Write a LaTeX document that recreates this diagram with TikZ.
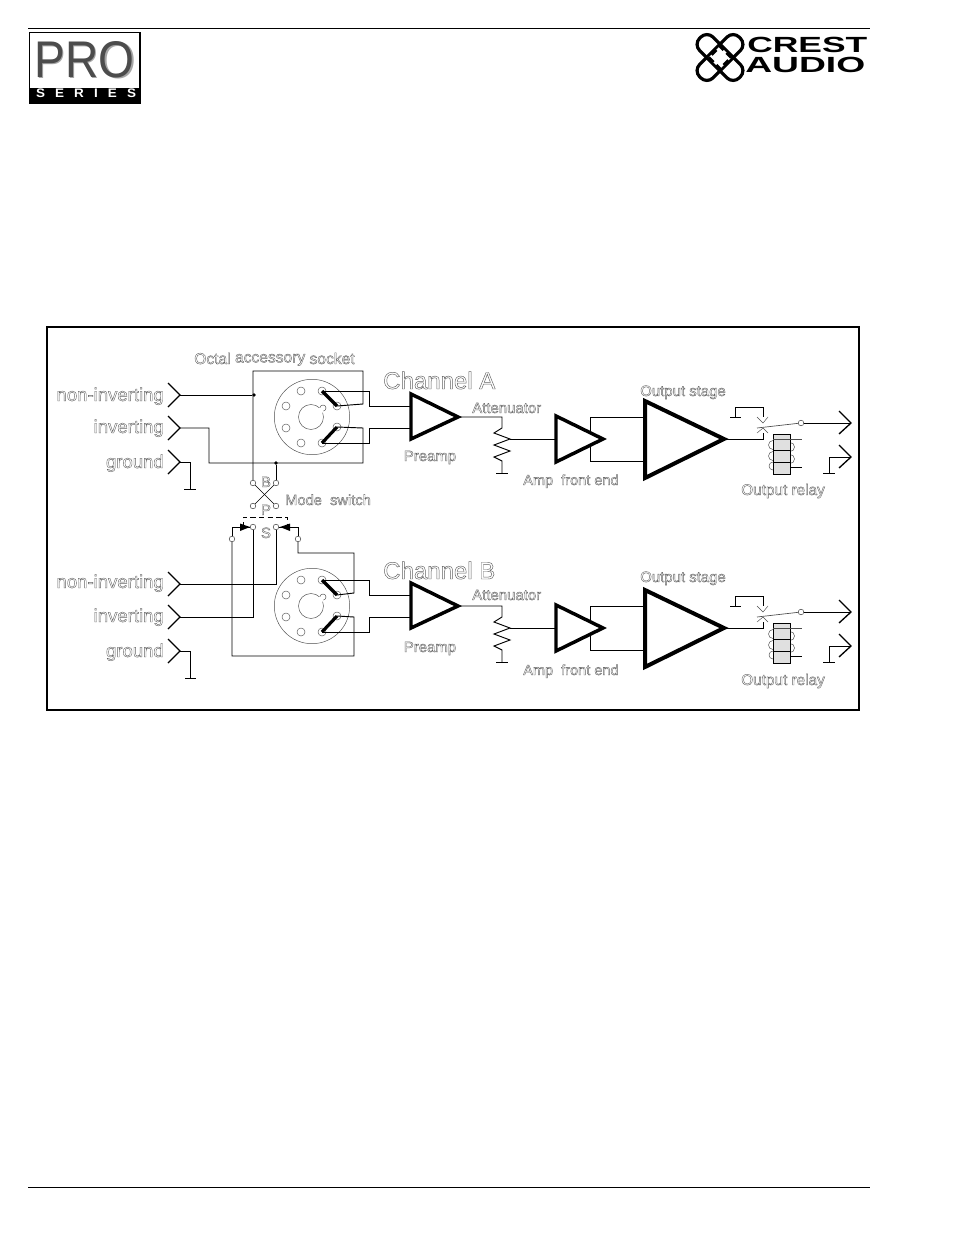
\documentclass[tikz,border=0pt]{standalone}
\usepackage{fontspec}
\usepackage{graphicx}
\setmainfont{Liberation Sans}
\newcommand{\hollow}[2][0.3]{\special{pdf:code q 1 Tr #1 w 0.38 G}#2\special{pdf:code Q}}
\tikzset{
  wire/.style={line width=0.7pt,line join=miter},
  thinw/.style={line width=0.35pt,draw=black!70},
  amp/.style={line width=2.6pt,line join=miter},
  chev/.style={line width=1pt,line join=miter},
  hole/.style={circle,draw=black!65,line width=0.35pt,fill=white,minimum size=6pt,inner sep=0pt},
  contact/.style={circle,draw=black!70,line width=0.4pt,fill=white,minimum size=4.2pt,inner sep=0pt},
  dotn/.style={circle,fill=black,minimum size=2.8pt,inner sep=0pt},
  lab/.style={inner sep=0pt,font=\fontsize{11.2}{13}\selectfont},
  big/.style={inner sep=0pt,font=\fontsize{13.9}{16}\selectfont},
  huge/.style={inner sep=0pt,font=\fontsize{18}{20}\selectfont}
}
% channel drawn at vertical offset #2, names prefixed by #1
\newcommand{\channel}[2]{%
\begin{scope}[shift={(0,#2)}]
  % input chevrons
  \coordinate (#1in1) at (180,395);
  \coordinate (#1in2) at (180,428);
  \coordinate (#1in3) at (180,462);
  % socket
  \coordinate (#1sock) at (312,417);
  \draw[thinw] (#1sock) circle (37.7);
  \draw[thinw] (311,417) circle (12.5);
  \draw[thinw,fill=white] (323,408) circle (3);
  \fill[white] (320.5,410.5) circle (3);
  \node[hole] (#1h1) at (301,391) {};
  \node[hole] (#1h2) at (286,406) {};
  \node[hole] (#1h3) at (286,428) {};
  \node[hole] (#1h4) at (301,443) {};
  \node[hole] (#1p1) at (322,391) {};
  \node[hole] (#1p2) at (337,406) {};
  \node[hole] (#1p3) at (337,427) {};
  \node[hole] (#1p4) at (322,443) {};
  \draw[line width=2.4pt] (#1p1.center) -- (#1p2.center);
  \draw[line width=2.4pt] (#1p3.center) -- (#1p4.center);
  % preamp
  \coordinate (#1ai1) at (411,406);
  \coordinate (#1ai2) at (411,428);
  \coordinate (#1ao) at (458,417);
  \draw[amp] (411,394) -- (#1ao) -- (411,439) -- cycle;
  \draw[wire] (#1p1.center) -- (369,391) |- (#1ai1);
  \draw[wire] (#1p4.center) -- (369,443) |- (#1ai2);
  % attenuator
  \coordinate (#1wip) at (510,439);
  \coordinate (#1rg) at (502,473);
  \draw[wire] (#1ao) -- (502,417) -- (502,428) -- (494,433) -- (#1wip) -- (494,445) -- (510,451) -- (494,457) -- (502,461) -- (#1rg);
  \draw[wire] (496,473) -- (508,473);
  % front end
  \coordinate (#1fi) at (556,439);
  \coordinate (#1fo) at (603,439);
  \draw[wire] (#1wip) -- (#1fi);
  \draw[wire] (590,417) -- (645,417) (590,461) -- (645,461) (590,417) -- (590,461);
  \draw[amp,fill=white] (556,416) -- (#1fo) -- (556,462) -- cycle;
  % output stage
  \coordinate (#1oo) at (724,439);
  \draw[amp,line width=3pt] (645,401) -- (#1oo) -- (645,478) -- cycle;
  % relay
  \draw[wire] (#1oo) -- (763,439) -- (763,433);
  \draw[wire] (730,417) -- (741,417) (735,417) -- (735,407) -- (763,407) -- (763,417);
  \draw[thinw] (757,417) -- (763,423) -- (768,417);
  \draw[thinw] (757,433) -- (763,428) -- (768,433);
  \node[contact] (#1sw) at (801,423) {};
  \draw[thinw,line width=0.5pt] (757,428) -- (#1sw);
  \coordinate (#1out1) at (851,423);
  \coordinate (#1out2) at (851,457);
  \draw[wire] (#1sw) -- (#1out1);
  \draw[chev] (839,411) -- (#1out1) -- (839,434);
  \draw[chev] (839,445) -- (#1out2) -- (839,468);
  \draw[wire] (#1out2) -- (829,457) -- (829,473) (823,473) -- (835,473);
  \draw[thinw] (773,445) circle (4.5) (773,456) circle (4.5) (773,466) circle (4);
  \draw[thinw] (790,447) circle (4.5) (790,459) circle (4.5);
  \draw[wire,fill=black!12] (773,434) rectangle (790,474);
  \draw[thinw] (773,439) -- (802,439);
  \draw[line width=0.5pt] (773,450) -- (790,450) (773,462) -- (790,462) (790,467) -- (802,467);
\end{scope}}
\begin{document}
\begin{tikzpicture}[x=0.75pt,y=-0.75pt]
\useasboundingbox (0,0) rectangle (954,1235);
\fill[white] (0,0) rectangle (954,1235);
% page rules
\draw[line width=0.75pt] (28,28) -- (870,28);
\draw[line width=0.75pt] (28,1187) -- (870,1187);
% PRO logo
\draw[line width=0.8pt] (29.5,32.5) rectangle (140,103);
\fill[black] (29.5,88) rectangle (140,103);
\node[inner sep=0pt,text=black!35] (proshadow) at (86,61) {\resizebox{75pt}{27pt}{PRO}};
\node[inner sep=0pt,text=black!70] (pro) at (84.5,60) {\resizebox{75pt}{27pt}{PRO}};
\node[inner sep=0pt,text=white,font=\bfseries] (series) at (86,93.5) {\resizebox{75pt}{6.5pt}{S\hspace{0.75em}E\hspace{0.75em}R\hspace{0.75em}I\hspace{0.75em}E\hspace{0.75em}S}};
% Crest logo
\begin{scope}[shift={(720,57.5)}]
  \draw[line width=2.4pt,rounded corners=6.5pt,rotate=45] (-28,-9.5) rectangle (28,9.5);
  \draw[line width=2.4pt,rounded corners=6.5pt,rotate=-45] (-28,-9.5) rectangle (28,9.5);
  \fill[white,rotate=45] (-8,-8) rectangle (8,8);
  \draw[line width=2.4pt,rotate=45,dashed,dash pattern=on 5pt off 3pt] (-8,-8) rectangle (8,8);
\end{scope}
\node[inner sep=0pt,anchor=north west,font=\bfseries] (crest) at (747,37) {\resizebox{90pt}{11.5pt}{CREST}};
\node[inner sep=0pt,anchor=north west,font=\bfseries] (audio) at (745,57) {\resizebox{90pt}{11.5pt}{AUDIO}};
% outer frame
\draw[line width=1.5pt] (47,327) rectangle (859,710);
% channels
\channel{a}{0}
\channel{b}{189}
% input chevrons
\foreach \n/\t in {a/in1,a/in2,a/in3,b/in1,b/in2,b/in3}{
  \draw[chev] ([shift={(-12,-12)}]\n\t) -- (\n\t) -- ([shift={(-12,12)}]\n\t);
}
% channel A wiring
\node[dotn] (dA) at (254,395) {};
\node[dotn] (dB) at (276,463) {};
\node[contact] (cB1) at (253,483) {};
\node[contact] (cB2) at (276,483) {};
\node[contact] (cP1) at (253,506) {};
\node[contact] (cP2) at (276,506) {};
\node[contact] (cS1) at (253,527) {};
\node[contact] (cS2) at (276,527) {};
\node[contact] (cL) at (232,539) {};
\node[contact] (cR) at (298,539) {};
\draw[wire] (ain1) -- (dA);
\draw[wire] (cB1) -- (253,371) -- (363,371) -- (363,404) -- (ap2.center);
\draw[wire] (ain2) -- (209,428) -- (209,463) -- (363,463) -- (363,428) -- (ap3.center);
\draw[wire] (dB) -- (cB2);
\draw[wire] (ain3) -- (190,462) -- (190,489) (184,489) -- (196,489);
% mode switch
\draw[line width=0.5pt] (cB1) -- (cP2);
\draw[line width=0.5pt] (cB2) -- (cP1);
\draw[wire,dashed,dash pattern=on 4pt off 2.5pt,line width=0.7pt] (243,527) -- (243,517) -- (287,517) -- (287,527);
\draw[wire] (cL) -- (232,527) -- (cS1);
\draw[wire] (cR) -- (298,527) -- (cS2);
\fill (240,523.5) -- (240,531) -- (250,527) -- cycle;
\fill (290,523.5) -- (290,531) -- (280,527) -- cycle;
% channel B wiring
\draw[wire] (cR) -- (298,553) -- (354,553) -- (354,593) -- (bp2.center);
\draw[wire] (cL) -- (232,656) -- (354,656) -- (354,617) -- (bp3.center);
\draw[wire] (cS1) -- (253,617) -- (bin2);
\draw[wire] (cS2) -- (276,584) -- (bin1);
\draw[wire] (bin3) -- (190,651) -- (190,678) (185,678) -- (196,678);
% labels
\node[big,anchor=base east] (l1) at (164,401) {\hollow{non-inverting}};
\node[big,anchor=base east] (l2) at (164,433) {\hollow{inverting}};
\node[big,anchor=base east] (l3) at (164,468) {\hollow{ground}};
\node[big,anchor=base east] (l4) at (164,588) {\hollow{non-inverting}};
\node[big,anchor=base east] (l5) at (164,622) {\hollow{inverting}};
\node[big,anchor=base east] (l6) at (164,657) {\hollow{ground}};
\node[lab,anchor=base west,font=\fontsize{11.7}{13}\selectfont] (soc) at (194,364) {\hollow{Octal \raisebox{1.2pt}{accessory} socket}};
\node[huge,anchor=base west] (cha) at (383,389) {\hollow[0.35]{Channel A}};
\node[huge,anchor=base west] (chb) at (383,579) {\hollow[0.35]{Channel B}};
\node[lab,anchor=base] (pa) at (430,461) {\hollow{Preamp}};
\node[lab,anchor=base] (pb) at (430,652) {\hollow{Preamp}};
\node[lab,anchor=base west] (ata) at (472,413) {\hollow{Attenuator}};
\node[lab,anchor=base west] (atb) at (472,600) {\hollow{Attenuator}};
\node[lab,anchor=base west,font=\fontsize{10.9}{13}\selectfont] (afa) at (523,485) {\hollow{Amp\ \ front end}};
\node[lab,anchor=base west,font=\fontsize{10.9}{13}\selectfont] (afb) at (523,675) {\hollow{Amp\ \ front end}};
\node[lab,anchor=base west] (osa) at (640,396) {\hollow{Output stage}};
\node[lab,anchor=base west] (osb) at (640,582) {\hollow{Output stage}};
\node[lab,anchor=base west,font=\fontsize{11.5}{13}\selectfont] (ora) at (741,495) {\hollow{Output relay}};
\node[lab,anchor=base west,font=\fontsize{11.5}{13}\selectfont] (orb) at (741,685) {\hollow{Output relay}};
\node[lab,anchor=base west,font=\fontsize{11}{13}\selectfont] (ms) at (285,505) {\hollow{Mode\ \ switch}};
\node[lab,anchor=base] (sB) at (266,487) {\hollow{B}};
\node[lab,anchor=base] (sP) at (266,515) {\hollow{P}};
\node[lab,anchor=base] (sS) at (266,538) {\hollow{S}};
\end{tikzpicture}
\end{document}
